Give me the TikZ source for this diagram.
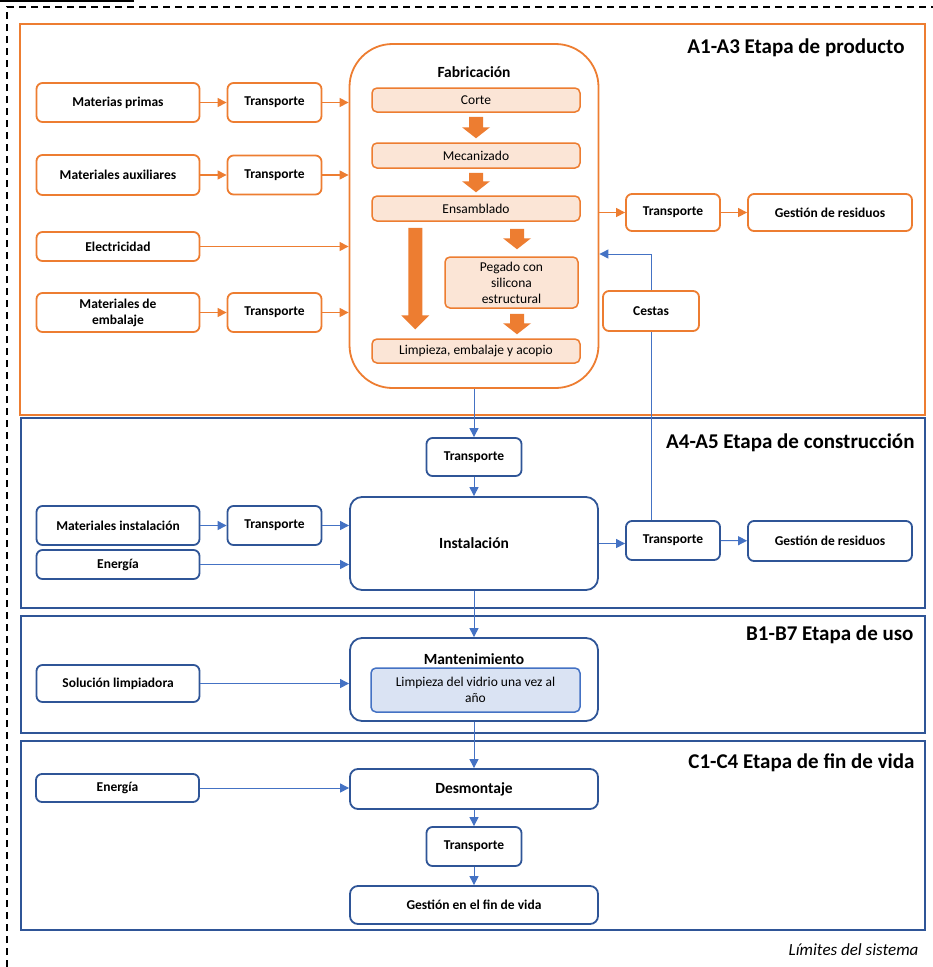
\documentclass[tikz,border=0pt]{standalone}
\usepackage{fontspec}
\setmainfont{Carlito}
\usetikzlibrary{arrows.meta,calc}
\definecolor{naranja}{HTML}{ED7D31}
\definecolor{naranjaclaro}{HTML}{FBE5D6}
\definecolor{azul}{HTML}{4472C4}
\definecolor{azuloscuro}{HTML}{2F5597}
\definecolor{azulclaro}{HTML}{DAE3F3}
\tikzset{
	obox/.style={draw=naranja, line width=1.8pt, rounded corners=6pt, fill=white, align=center, inner sep=0pt, font=\bfseries\fontsize{13.5}{16}\selectfont},
	oin/.style={draw=naranja, line width=1.5pt, rounded corners=5pt, fill=naranjaclaro, align=center, inner sep=0pt, font=\fontsize{13.5}{16}\selectfont},
	bbox/.style={draw=azuloscuro, line width=1.8pt, rounded corners=6pt, fill=white, align=center, inner sep=0pt, font=\bfseries\fontsize{13.5}{16}\selectfont},
	bin/.style={draw=azul, line width=1.5pt, rounded corners=5pt, fill=azulclaro, align=center, inner sep=0pt, font=\fontsize{13.5}{15.5}\selectfont},
	wide/.style={minimum width=163pt, minimum height=39pt},
	narrow/.style={minimum width=94pt, minimum height=39pt},
	oarr/.style={naranja, line width=1.2pt, -{Triangle[length=9pt,width=9pt]}},
	barr/.style={azul, line width=1pt, -{Triangle[length=9pt,width=9pt]}},
	stage/.style={anchor=east, font=\bfseries\fontsize{21}{25}\selectfont},
}
\def\blockarrow(#1)(#2)(#3){\fill[naranja] let \p1=(#1), \p2=(#2) in (\x1-7pt,\y1) -- (\x1+7pt,\y1) -- (\x1+7pt,\y2+#3) -- (\x1+14pt,\y2+#3) -- (\x1,\y2) -- (\x1-14pt,\y2+#3) -- (\x1-7pt,\y2+#3) -- cycle;}

\begin{document}
\begin{tikzpicture}[x=1pt,y=-1pt]
	%%%%% START %%%%%
	\def\xl{118}
	\def\xt{274.5}
	\def\xc{474}
	\def\xr{673}
	\def\xg{830}
	\useasboundingbox (0,0) rectangle (933,967);
	
	\draw[line width=1.5pt] (0,1) -- (134,1);
	\draw[line width=1.3pt, dash pattern=on 7pt off 5pt] (7,967) -- (7,7) -- (933,7);
	
	% etapas
	\draw[naranja, line width=1.5pt] (20,24) rectangle (925,415);
	\draw[azuloscuro, line width=1.5pt] (21,418) rectangle (925,608);
	\draw[azuloscuro, line width=1.5pt] (21,616) rectangle (925,733);
	\draw[azuloscuro, line width=1.5pt] (21,741) rectangle (925,930);
	\node[stage] (etA) at (908,48) {A1-A3 Etapa de producto};
	\node[stage] (etB) at (918,443) {A4-A5 Etapa de construcción};
	\node[stage] (etC) at (917,635) {B1-B7 Etapa de uso};
	\node[stage] (etD) at (918,763) {C1-C4 Etapa de fin de vida};
	\node[anchor=east, font=\itshape\fontsize{17}{20}\selectfont] (limites) at (922,950) {Límites del sistema};
	
	% A1-A3
	\node[obox, wide] (matprim) at (\xl,102.5) {Materias primas};
	\node[obox, narrow] (transp1) at (\xt,102.5) {Transporte};
	\node[obox, wide, minimum height=40pt] (mataux) at (\xl,175) {Materiales auxiliares};
	\node[obox, narrow] (transp2) at (\xt,175) {Transporte};
	\node[obox, wide, minimum height=29pt] (electr) at (\xl,246.5) {Electricidad};
	\node[obox, wide] (matemb) at (\xl,312.5) {Materiales de\\embalaje};
	\node[obox, narrow] (transp3) at (\xt,312.5) {Transporte};
	
	\node[obox, minimum width=249pt, minimum height=344pt, rounded corners=43pt] (fabric) at (\xc,216) {};
	\node[font=\bfseries\fontsize{15.5}{18}\selectfont] (fabtit) at (\xc,72) {Fabricación};
	\node[oin, minimum width=208pt, minimum height=24pt] (corte) at (476,100) {Corte};
	\node[oin, minimum width=208pt, minimum height=25pt] (mecan) at (476,155.5) {Mecanizado};
	\node[oin, minimum width=208pt, minimum height=25pt] (ensam) at (476,208.5) {Ensamblado};
	\node[oin, minimum width=133pt, minimum height=51pt] (pegado) at (511.5,282.5) {Pegado con\\silicona\\estructural};
	\node[oin, minimum width=208pt, minimum height=24pt] (limpieza) at (476,351) {Limpieza, embalaje y acopio};
	
	\blockarrow([yshift=-4pt]corte.south)([yshift=4pt]mecan.north)(11pt)
	\blockarrow([yshift=-4pt]mecan.south)([yshift=3pt]ensam.north)(11pt)
	\blockarrow([xshift=5.5pt,yshift=-7pt]pegado.north |- ensam.south)([xshift=5.5pt,yshift=7pt]pegado.north)(11pt)
	\blockarrow([xshift=5.5pt,yshift=-5pt]pegado.south)([xshift=5.5pt,yshift=4pt]pegado.south |- limpieza.north)(11pt)
	\blockarrow([xshift=44pt,yshift=-6pt]ensam.south west)([xshift=44pt,yshift=9pt]limpieza.north west)(14pt)
	
	\node[obox, narrow, minimum height=37pt] (transpres) at (\xr,212.5) {Transporte};
	\node[obox, wide, minimum width=164pt, minimum height=37pt] (gestres) at (\xg,212.5) {Gestión de residuos};
	\node[obox, minimum width=96pt, minimum height=40pt] (cestas) at (651,311) {Cestas};
	
	\draw[oarr] (matprim) -- (transp1);
	\draw[oarr] (transp1.east) -- (transp1.east -| fabric.west);
	\draw[oarr] (mataux) -- (transp2);
	\draw[oarr] (transp2.east) -- (transp2.east -| fabric.west);
	\draw[oarr] (electr.east) -- (electr.east -| fabric.west);
	\draw[oarr] (matemb) -- (transp3);
	\draw[oarr] (transp3.east) -- (transp3.east -| fabric.west);
	\draw[oarr] (fabric.east |- transpres.west) -- (transpres.west);
	\draw[oarr] (transpres) -- (gestres);
	
	% A4-A5
	\node[bbox, narrow, minimum width=95pt, minimum height=38pt] (transpA) at (\xc,457) {Transporte};
	\node[bbox, minimum width=248pt, minimum height=93pt, rounded corners=12pt, font=\bfseries\fontsize{15.5}{18}\selectfont] (instal) at (\xc,543.5) {Instalación};
	\node[bbox, wide] (matinst) at (\xl,525.5) {Materiales instalación};
	\node[bbox, narrow] (transpB) at (\xt,525.5) {Transporte};
	\node[bbox, wide, minimum height=29pt] (energia1) at (\xl,564.5) {Energía};
	\node[bbox, narrow] (transpC) at (\xr,540.5) {Transporte};
	\node[bbox, wide, minimum width=164pt, minimum height=40pt] (gestres2) at (\xg,541) {Gestión de residuos};
	\coordinate (retorno) at (0,254);
	
	\draw[barr] (fabric.south) -- (transpA.north);
	\draw[barr] (transpA) -- (instal);
	\draw[barr] (matinst) -- (transpB);
	\draw[barr] (transpB.east) -- (transpB.east -| instal.west);
	\draw[barr] (energia1.east) -- (energia1.east -| instal.west);
	\draw[barr] (instal.east) -- (instal.east -| transpC.west);
	\draw[barr] (transpC) -- (gestres2);
	\draw[azul, line width=1pt] (transpC.north -| cestas.south) -- (cestas.south);
	\draw[barr] (cestas.north) -- (cestas.north |- retorno) -- (fabric.east |- retorno);
	
	% B1-B7
	\node[bbox, minimum width=248pt, minimum height=83pt, rounded corners=12pt] (manten) at (\xc,679.5) {};
	\node[font=\bfseries\fontsize{15.5}{18}\selectfont] (mantit) at (\xc,659) {Mantenimiento};
	\node[bin, minimum width=209pt, minimum height=44pt] (limpvid) at (475.5,690) {Limpieza del vidrio una vez al\\año};
	\node[bbox, wide, minimum height=37pt] (solucion) at (\xl,683.5) {Solución limpiadora};
	
	\draw[barr] (instal) -- (manten);
	\draw[barr] (solucion.east) -- (solucion.east -| manten.west);
	
	% C1-C4
	\node[bbox, minimum width=248pt, minimum height=40pt, rounded corners=8pt, font=\bfseries\fontsize{15.5}{18}\selectfont] (desmont) at (\xc,789) {Desmontaje};
	\node[bbox, wide, minimum height=28pt] (energia2) at (117.5,788) {Energía};
	\node[bbox, narrow, minimum width=95pt] (transpD) at (\xc,846.5) {Transporte};
	\node[bbox, minimum width=248pt, minimum height=38pt, rounded corners=8pt] (gestfin) at (\xc,905) {Gestión en el fin de vida};
	
	\draw[barr] (manten) -- (desmont);
	\draw[barr] (energia2.east) -- (energia2.east -| desmont.west);
	\draw[barr] (desmont) -- (transpD);
	\draw[barr] (transpD) -- (gestfin);
	%%%%% END %%%%%
\end{tikzpicture}
\end{document}
